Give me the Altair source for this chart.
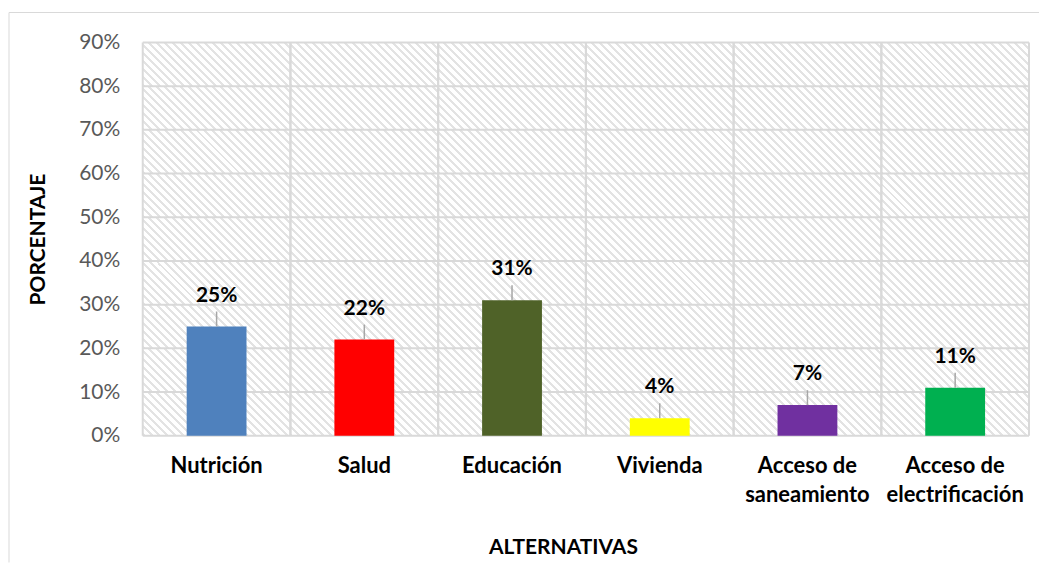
import altair as alt
import pandas as pd

# ---------------- data ----------------
categories = ["Nutrición", "Salud", "Educación", "Vivienda",
              "Acceso de saneamiento", "Acceso de electrificación"]
values = [0.25, 0.22, 0.31, 0.04, 0.07, 0.11]
bar_colors = ["#4F81BD", "#FF0000", "#4F6228", "#FFFF00", "#7030A0", "#00B050"]
y_ticks = [0.0, 0.1, 0.2, 0.3, 0.4, 0.5, 0.6, 0.7, 0.8, 0.9]

df = pd.DataFrame({"categoria": categories, "valor": values, "color": bar_colors})
ticks_df = pd.DataFrame({"valor": y_ticks})
cells_df = pd.DataFrame([{"categoria": c, "lo": lo, "hi": hi}
                         for c in categories
                         for lo, hi in zip(y_ticks[:-1], y_ticks[1:])])
one = pd.DataFrame({"k": [0]})

# ---------------- layout / style ----------------
W, H = 888, 394
FONT = "Lato"
GRID = "#d9d9d9"
X_TITLE = "ALTERNATIVAS"
Y_TITLE = "PORCENTAJE"

# diagonal hatch (45 deg, down-right lines) as a striped gradient per grid cell
cw, ch = W / len(categories), H / (len(y_ticks) - 1)
P = 8.0      # horizontal period in px
TH = 3.0     # stripe horizontal thickness in px
HATCH = "#e3e3e3"
span = cw + ch
r = ch / cw
s = (1 + r) / (1 + r * r)
stops = []
k = 0
while k * P < span:
    a = k * P / span
    b = min((k * P + TH) / span, 1.0)
    c = min((k + 1) * P / span, 1.0)
    stops += [alt.GradientStop(color=HATCH, offset=a),
              alt.GradientStop(color=HATCH, offset=b),
              alt.GradientStop(color="#ffffff", offset=b),
              alt.GradientStop(color="#ffffff", offset=c)]
    k += 1
hatch = alt.LinearGradient(gradient="linear", stops=stops,
                           x1=0, y1=1, x2=s, y2=1 - s * r)

xscale = alt.Scale(domain=categories, paddingInner=0, paddingOuter=0)
yscale = alt.Scale(domain=[0, 0.9], nice=False)

x_axis = alt.Axis(labelAngle=0, domain=False, ticks=False, grid=False,
                  bandPosition=0.5, labelAlign="center",
                  labelFont=FONT, labelFontSize=22,
                  labelFontWeight="bold", labelColor="black",
                  labelPadding=20, labelLineHeight=29,
                  labelExpr="indexof(datum.label, 'Acceso de ') == 0 ? ['Acceso de', substring(datum.label, 10)] : datum.label",
                  titleFont=FONT, titleFontSize=21, titleFontWeight="bold",
                  titleColor="black", titleX=421, titleY=118,
                  titleBaseline="alphabetic")
y_axis = alt.Axis(values=y_ticks, format=".0%",
                  domain=False, ticks=False, grid=False,
                  labelFont=FONT, labelFontSize=21, labelColor="#595959",
                  labelPadding=23,
                  titleFont=FONT, titleFontSize=21, titleFontWeight="bold",
                  titleColor="black", titleAngle=270, titleX=-104, titleY=197,
                  titleAlign="center", titleBaseline="middle")


def xenc(**kw):
    return alt.X("categoria:N", sort=categories, scale=xscale, title=X_TITLE,
                 axis=x_axis, **kw)


def yenc(field="valor:Q", **kw):
    return alt.Y(field, scale=yscale, title=Y_TITLE, axis=y_axis, **kw)


bg = alt.Chart(cells_df).mark_rect(fill=hatch, strokeWidth=0).encode(
    x=xenc(), y=yenc("lo:Q"), y2="hi:Q")

hgrid = alt.Chart(ticks_df).mark_rule(color=GRID, strokeWidth=2).encode(
    y=yenc(), x=alt.value(0), x2=alt.value(W))

vgrid0 = alt.Chart(df).mark_rule(color=GRID, strokeWidth=2).encode(
    x=xenc(bandPosition=0), y=alt.value(0), y2=alt.value(H))
vgrid1 = alt.Chart(df).mark_rule(color=GRID, strokeWidth=2).encode(
    x=xenc(bandPosition=1), y=alt.value(0), y2=alt.value(H))

bars = alt.Chart(df).mark_bar(width=alt.RelativeBandSize(0.405)).encode(
    x=xenc(), y=yenc(), color=alt.Color("color:N", scale=None))

leaders = alt.Chart(df).mark_rule(color="#a6a6a6", strokeWidth=1.5, y2Offset=-15).encode(
    x=xenc(), y=yenc(), y2=alt.Y2("valor:Q"))

labels = alt.Chart(df).mark_text(font=FONT, fontSize=21, fontWeight="bold", color="black",
                                 baseline="alphabetic", dy=-25).encode(
    x=xenc(), y=yenc(), text=alt.Text("valor:Q", format=".0%"))

frame_left = alt.Chart(one).mark_rule(color=GRID, strokeWidth=1).encode(
    x=alt.value(-134), y=alt.value(-30), y2=alt.value(521))
frame_top = alt.Chart(one).mark_rule(color=GRID, strokeWidth=1).encode(
    x=alt.value(-134), x2=alt.value(898), y=alt.value(-30))

chart = alt.layer(frame_left, frame_top, bg, hgrid, vgrid0, vgrid1, bars,
                  leaders, labels).properties(
    width=W, height=H,
    padding={"left": 0, "top": 3, "right": 0, "bottom": 0},
    background="white",
).configure_view(stroke=None)

chart.save("out.html", embed_options={"renderer": "svg", "actions": False})
